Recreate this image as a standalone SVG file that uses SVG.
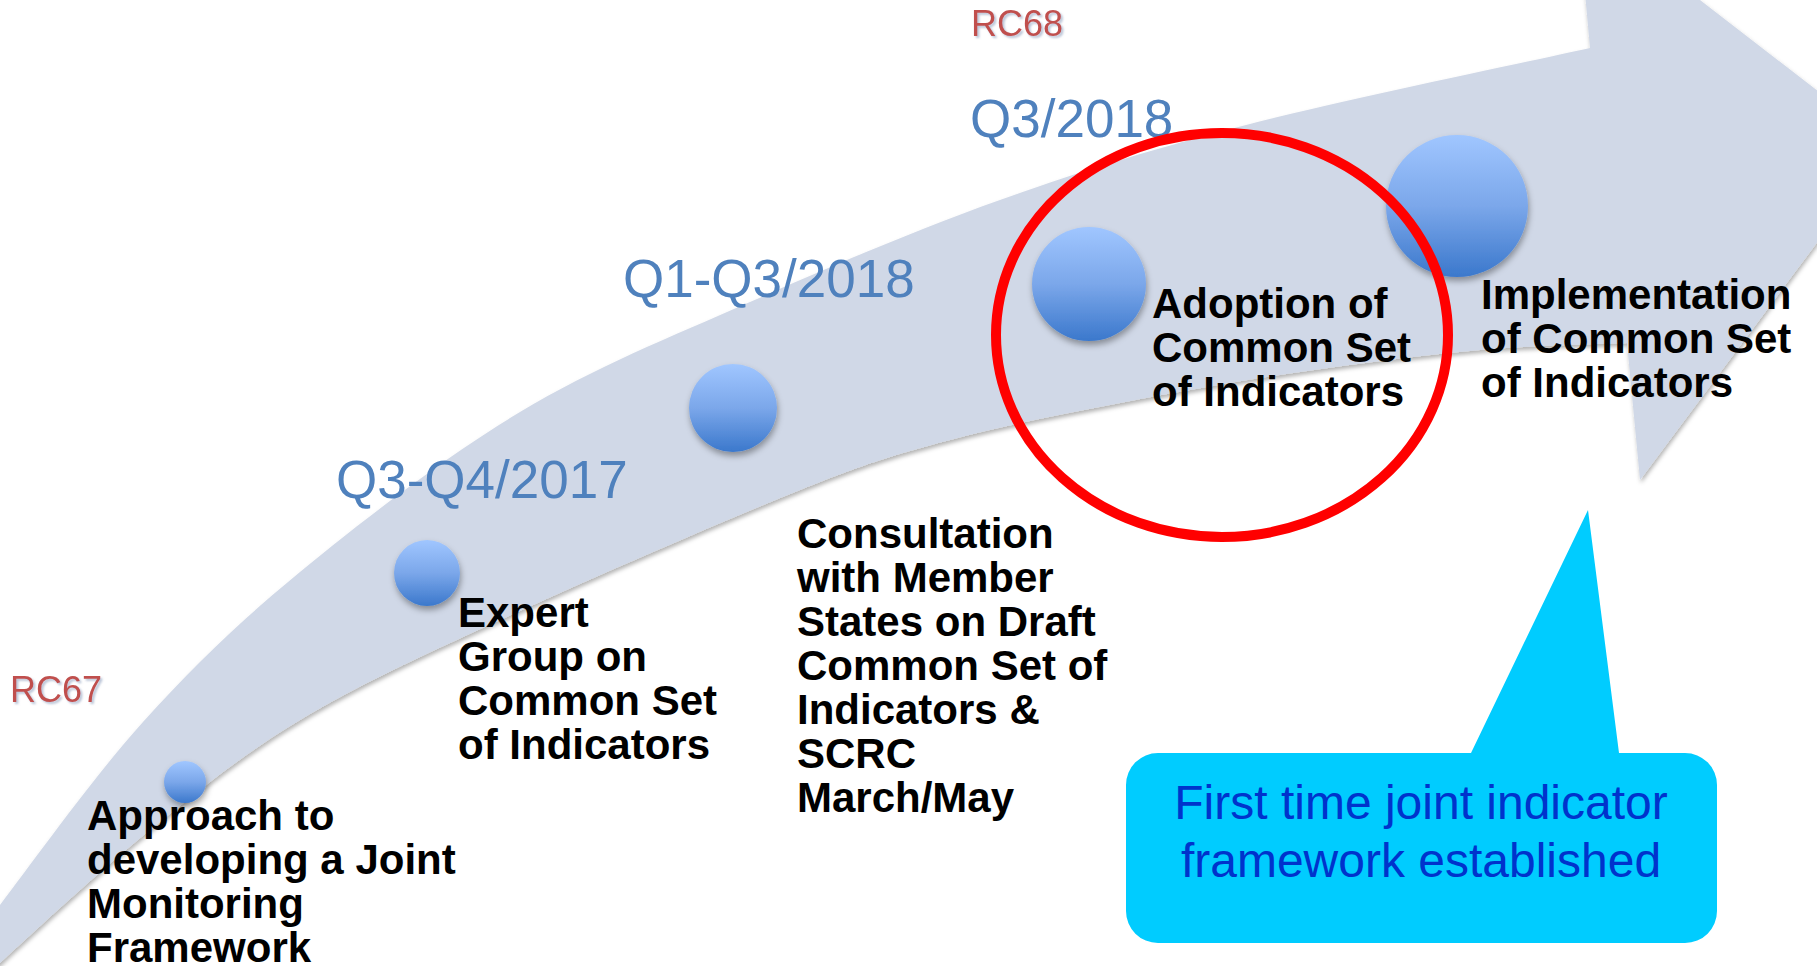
<svg xmlns="http://www.w3.org/2000/svg" width="1817" height="966" viewBox="0 0 1817 966">
  <style>
    .lbl { font-family: "Liberation Sans", Arial, sans-serif; font-weight: bold; font-size: 42px; fill: #000000; }
    .date { font-family: "Liberation Sans", Arial, sans-serif; font-size: 53px; fill: #4F81BD; }
    .rc { font-family: "Liberation Sans", Arial, sans-serif; font-size: 36px; fill: #C0504D; }
    .note { font-family: "Liberation Sans", Arial, sans-serif; font-size: 48px; fill: #0033CC; }
    .dot { fill: url(#dotGrad); filter: url(#dotShadow); }
  </style>
  <defs>
    <linearGradient id="dotGrad" x1="0" y1="0" x2="0" y2="1">
      <stop offset="0" stop-color="#A0C6FF"/>
      <stop offset="0.5" stop-color="#7BA7EA"/>
      <stop offset="1" stop-color="#3B78CC"/>
    </linearGradient>
    <filter id="dotShadow" x="-30%" y="-30%" width="160%" height="170%">
      <feDropShadow dx="1" dy="4" stdDeviation="3" flood-color="#000000" flood-opacity="0.35"/>
    </filter>
    <filter id="arrowShadow" x="-5%" y="-5%" width="110%" height="110%">
      <feDropShadow dx="1" dy="3" stdDeviation="2" flood-color="#000000" flood-opacity="0.3"/>
    </filter>
    <filter id="textShadow" x="-10%" y="-20%" width="130%" height="150%">
      <feDropShadow dx="2" dy="2" stdDeviation="1" flood-color="#7F93B5" flood-opacity="0.55"/>
    </filter>
  </defs>

  <rect x="0" y="0" width="1817" height="966" fill="#FFFFFF"/>

  <g id="connectors">
    <path id="timeline-arrow" fill="#D0D8E7" filter="url(#arrowShadow)"
      d="M -50,975 L 0,905 C 32.2,862.8 93,777.5 143,722 C 193,666.5 237.2,623.7 300,572 C 362.8,520.3 445,457 520,412 C 595,367 670,337.3 750,302 C 830,266.7 916.7,229.7 1000,200 C 1083.3,170.3 1151.7,149.3 1250,124 C 1348.3,98.7 1533.3,60.7 1590,48 L 1577,-95 L 1889,146 L 1640,480 L 1627,343 C 1602.5,344.2 1534.5,345.2 1480,350 C 1425.5,354.8 1360,363.2 1300,372 C 1240,380.8 1178.3,391.7 1120,403 C 1061.7,414.3 1003.3,425.5 950,440 C 896.7,454.5 875,460 800,490 C 725,520 583.3,581.7 500,620 C 416.7,658.3 358.3,685 300,720 C 241.7,755 200,789.5 150,830 C 100,870.5 35,930.5 0,963 L -60,1025 Z"/>
  </g>

  <g id="rc-labels">
    <text class="rc" x="10" y="702" filter="url(#textShadow)">RC67</text>
    <text class="rc" x="971" y="36" filter="url(#textShadow)">RC68</text>
  </g>

  <g id="milestone-1">
    <circle class="dot" cx="185" cy="782" r="21"/>
    <text class="lbl" x="87" y="830">Approach to</text>
    <text class="lbl" x="87" y="874">developing a Joint</text>
    <text class="lbl" x="87" y="918">Monitoring</text>
    <text class="lbl" x="87" y="962">Framework</text>
  </g>

  <g id="milestone-2">
    <text class="date" x="336" y="498">Q3-Q4/2017</text>
    <circle class="dot" cx="427" cy="573" r="33"/>
    <text class="lbl" x="458" y="627">Expert</text>
    <text class="lbl" x="458" y="671">Group on</text>
    <text class="lbl" x="458" y="715">Common Set</text>
    <text class="lbl" x="458" y="759">of Indicators</text>
  </g>

  <g id="milestone-3">
    <text class="date" x="623" y="297">Q1-Q3/2018</text>
    <circle class="dot" cx="733" cy="408" r="44"/>
    <text class="lbl" x="797" y="548">Consultation</text>
    <text class="lbl" x="797" y="592">with Member</text>
    <text class="lbl" x="797" y="636">States on Draft</text>
    <text class="lbl" x="797" y="680">Common Set of</text>
    <text class="lbl" x="797" y="724">Indicators &amp;</text>
    <text class="lbl" x="797" y="768">SCRC</text>
    <text class="lbl" x="797" y="812">March/May</text>
  </g>

  <g id="milestone-4">
    <text class="date" x="970" y="137">Q3/2018</text>
    <circle class="dot" cx="1089" cy="284" r="57"/>
    <text class="lbl" x="1152" y="318">Adoption of</text>
    <text class="lbl" x="1152" y="362">Common Set</text>
    <text class="lbl" x="1152" y="406">of Indicators</text>
  </g>

  <g id="milestone-5">
    <circle class="dot" cx="1457" cy="206" r="71"/>
    <text class="lbl" x="1481" y="309">Implementation</text>
    <text class="lbl" x="1481" y="353">of Common Set</text>
    <text class="lbl" x="1481" y="397">of Indicators</text>
  </g>

  <g id="highlight">
    <ellipse cx="1222" cy="335" rx="226" ry="202" fill="none" stroke="#FF0000" stroke-width="10"/>
  </g>

  <g id="callout">
    <path fill="#00CCFF" d="M 1158,753 L 1471,753 L 1588,510 L 1619,753 L 1685,753 A 32 32 0 0 1 1717,785 L 1717,911 A 32 32 0 0 1 1685,943 L 1158,943 A 32 32 0 0 1 1126,911 L 1126,785 A 32 32 0 0 1 1158,753 Z"/>
    <text class="note" x="1421" y="819" text-anchor="middle">First time joint indicator</text>
    <text class="note" x="1421" y="877" text-anchor="middle">framework established</text>
  </g>
</svg>
